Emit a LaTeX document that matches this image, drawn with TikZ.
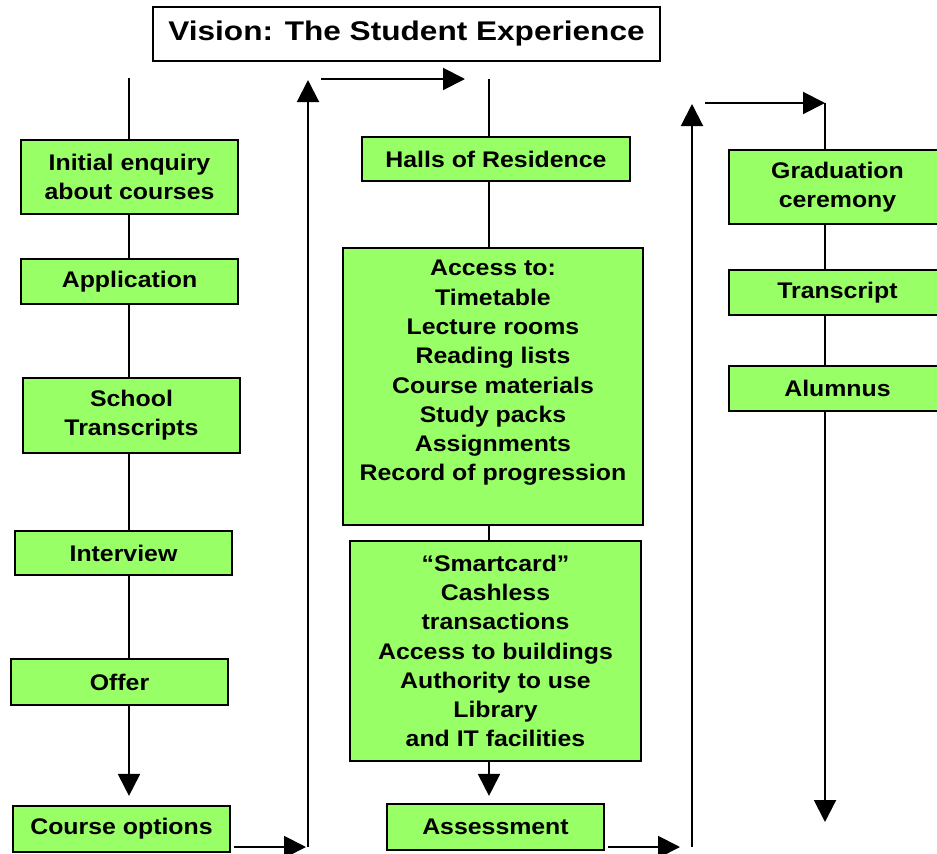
\documentclass[tikz,border=0pt]{standalone}
\usepackage{fontspec}
\newfontfamily\boxfont[FakeStretch=1.1]{Liberation Sans}
\newfontfamily\titlefont[FakeStretch=1.17]{Liberation Sans}
\usetikzlibrary{arrows.meta,backgrounds}
\definecolor{boxgreen}{RGB}{153,255,102}
\begin{document}
\begin{tikzpicture}[x=1pt,y=-1pt,
  box/.style={draw=black, line width=2.2pt, fill=boxgreen, align=center, inner sep=0pt,
    font=\boxfont\bfseries\fontsize{22.6}{29.3}\selectfont, minimum width=217pt},
  txt/.style={align=center, inner sep=0pt, font=\boxfont\bfseries\fontsize{22.6}{29.3}\selectfont},
  conn/.style={line width=2pt},
  arr/.style={conn, -{Triangle[length=22pt,width=22pt]}}]
\useasboundingbox (0,0) rectangle (937,854);

% title
\node[draw=black, line width=2pt, fill=white, minimum width=507pt, minimum height=54pt,
  inner sep=0pt, font=\titlefont\bfseries\fontsize{27}{32}\selectfont] (title) at (406.5,34)
  {Vision: The Student Experience};

% column 1
\node[box, minimum height=74pt] (enquiry) at (129.5,177) {Initial enquiry\\about courses};
\node[box, minimum height=45pt] (application) at (129.5,281.5) {Application};
\node[box, minimum height=75pt] (school) at (131.5,415.5) {School\\Transcripts};
\node[box, minimum height=44pt] (interview) at (123.5,553) {Interview};
\node[box, minimum height=46pt] (offer) at (119.5,682) {Offer};
\node[box, minimum height=46pt] (options) at (121.5,829) {Course options};

% column 2
\node[box, minimum width=268pt, minimum height=44pt] (halls) at (496,159) {Halls of Residence};
\node[box, minimum width=300pt, minimum height=277pt] (access) at (493,386.5) {};
\node[txt] (accesstext) at (493,373) {Access to:\\Timetable\\Lecture rooms\\Reading lists\\Course materials\\Study packs\\Assignments\\Record of progression};
\node[box, minimum width=291pt, minimum height=220pt] (smart) at (495.5,651)
  {“Smartcard”\\Cashless\\transactions\\Access to buildings\\Authority to use\\Library\\and IT facilities};
\node[box, minimum height=46pt] (assess) at (495.5,827) {Assessment};

% column 3
\node[box, minimum height=74pt] (grad) at (837.5,187) {Graduation\\ceremony};
\node[box, minimum height=45pt] (transcript) at (837.5,292.5) {Transcript};
\node[box, minimum height=45pt] (alumnus) at (837.5,388.5) {Alumnus};

% free ends
\coordinate (c1top) at (129,78);
\coordinate (r1b) at (308,847);
\coordinate (r1t) at (308,80);
\coordinate (t1a) at (321,79);
\coordinate (c2top) at (489,79);
\coordinate (r2b) at (692,847);
\coordinate (r2t) at (692,104);
\coordinate (t2a) at (705,103);
\coordinate (c3top) at (825,103);
\coordinate (c3end) at (825,822);

\begin{scope}[on background layer]
  \draw[arr, shorten >=9pt] (c1top) -- (c1top |- options.north);
  \draw[arr, shorten >=2pt, shorten <=3pt] ([yshift=-18pt]options.east) -- ([yshift=-18pt]options.east -| r1b);
  \draw[arr] (r1b) -- (r1t);
  \draw[arr, shorten >=24pt] (t1a) -- (t1a -| c2top);
  \draw[arr, shorten >=7pt] (c2top) -- (c2top |- assess.north);
  \draw[arr, shorten >=12pt, shorten <=3pt] ([yshift=-20pt]assess.east) -- ([yshift=-20pt]assess.east -| r2b);
  \draw[arr] (r2b) -- (r2t);
  \draw[arr] (t2a) -- (c3top);
  \draw[arr] (c3top) -- (c3end);
\end{scope}
\end{tikzpicture}
\end{document}
